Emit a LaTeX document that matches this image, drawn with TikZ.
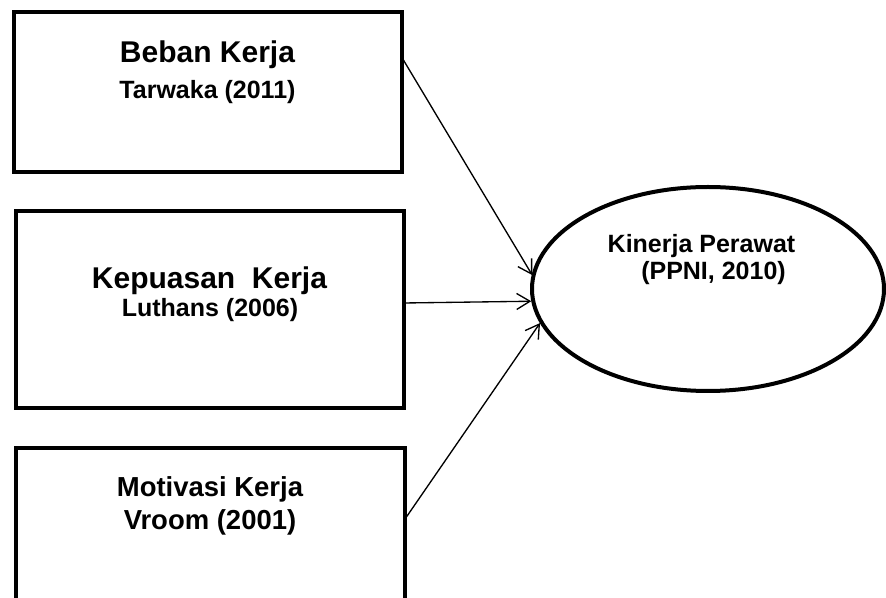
\documentclass[tikz,border=0pt]{standalone}
\usepackage{fontspec}
\setmainfont{Liberation Sans}
\usetikzlibrary{shapes.geometric,arrows.meta,calc}
\begin{document}
\begin{tikzpicture}[x=0.75pt,y=-0.75pt,
 box/.style={draw,line width=3pt,rectangle,inner sep=0pt,outer sep=0pt},
 oval/.style={draw,line width=3pt,ellipse,inner sep=0pt,outer sep=0pt,minimum width=264pt,minimum height=153pt},
 bigtxt/.style={font=\bfseries\fontsize{22.5}{26}\selectfont,anchor=base,inner sep=0pt},
 midtxt/.style={font=\bfseries\fontsize{20.6}{24}\selectfont,anchor=base,inner sep=0pt},
 smalltxt/.style={font=\bfseries\fontsize{18.75}{22}\selectfont,anchor=base,inner sep=0pt},
 link/.style={line width=1pt,shorten >=1.5pt,-{Straight Barb[length=10pt,width=12pt,line width=1pt]}}]
\useasboundingbox (0,0) rectangle (886,598);
\clip (0,0) rectangle (886,598);
\node[box,minimum width=291pt,minimum height=120pt] (b1) at (207.5,92) {};
\node[box,minimum width=291pt,minimum height=147.75pt] (b2) at (210,309.5) {};
\node[box,minimum width=291.75pt,minimum height=120pt] (b3) at (210.5,528) {};
\node[oval] (e) at (708,289) {};
\node[bigtxt] (t1a) at (207.5,63) {Beban Kerja};
\node[smalltxt] (t1b) at (207.5,99) {Tarwaka (2011)};
\node[bigtxt] (t2a) at (209.5,289) {Kepuasan\ \ Kerja};
\node[smalltxt] (t2b) at (210,317) {Luthans (2006)};
\node[midtxt] (t3a) at (210,497) {Motivasi Kerja};
\node[midtxt] (t3b) at (210,530) {Vroom (2001)};
\node[smalltxt] (t4a) at (701.5,253) {Kinerja Perawat};
\node[smalltxt] (t4b) at (713.5,280) {(PPNI, 2010)};
\draw[link] ($(b1.north east)!0.28!(b1.south east)$) -- (e.176);
\draw[link] ($(b2.north east)!0.467!(b2.south east)$) -- (e.184.6);
\draw[link] ($(b3.north east)!0.444!(b3.south east)$) -- (e.191.8);
\end{tikzpicture}
\end{document}
